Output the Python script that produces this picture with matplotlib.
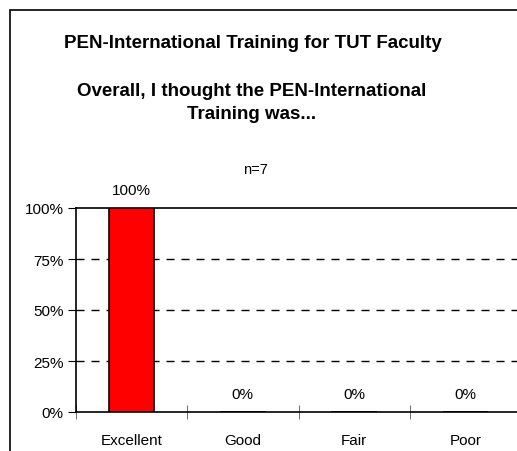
import matplotlib
matplotlib.use("Agg")
from matplotlib import pyplot as plt
from matplotlib.patches import Rectangle

plt.rcParams['font.family'] = ['Liberation Sans', 'DejaVu Sans']

categories = ['Excellent', 'Good', 'Fair', 'Poor']
values = [100, 0, 0, 0]
yticks = [0, 25, 50, 75, 100]

W, H = 517, 452
fig = plt.figure(figsize=(W / 100, H / 100), dpi=100)

# outer chart border (runs off the right and bottom edges)
fig.patches.append(Rectangle((10 / W, -0.1), 1.2, 1 - 11 / H + 0.1, transform=fig.transFigure,
                             fill=False, edgecolor='black', linewidth=1.2))

fig.text(253 / W, 1 - 43 / H, 'PEN-International Training for TUT Faculty',
         ha='center', va='center', fontsize=13.5, fontweight='bold')
fig.text(252 / W, 1 - 103 / H, 'Overall, I thought the PEN-International\nTraining was...',
         ha='center', va='center', fontsize=13.5, fontweight='bold', linespacing=1.5)
fig.text(255 / W, 1 - 170 / H, 'n=7', ha='center', va='center', fontsize=10.5)

left, right, top, bottom = 76, 521, 209, 413
ax = fig.add_axes([left / W, 1 - bottom / H, (right - left) / W, (bottom - top) / H])

x = list(range(len(categories)))
ax.bar(x, values, width=0.41, color='#ff0000', edgecolor='black', linewidth=1.2, zorder=3)
for xi, v in zip(x, values):
    ax.text(xi, v + 5.5, f'{v}%', ha='center', va='bottom', fontsize=11, clip_on=False)

ax.set_xlim(-0.5, len(categories) - 0.5)
ax.set_ylim(0, 100)
ax.set_yticks(yticks)
ax.set_yticklabels([f'{t}%' for t in yticks], fontsize=11)
ax.set_xticks(x)
ax.set_xticklabels(categories, fontsize=11)
ax.set_xticks([i + 0.5 for i in range(-1, len(categories))], minor=True)
ax.tick_params(axis='x', which='major', length=0, pad=15)
ax.tick_params(axis='x', which='minor', direction='inout', length=10, color='#555555')
ax.tick_params(axis='y', direction='out', length=6, pad=3)

for t in yticks[1:-1]:
    ax.axhline(t, color='black', linestyle=(0, (5.8, 5)), linewidth=1.0, zorder=1)

for s in ['left', 'bottom', 'top']:
    ax.spines[s].set_linewidth(1.2)
ax.spines['right'].set_visible(False)

fig.savefig('out.png', dpi=100)
